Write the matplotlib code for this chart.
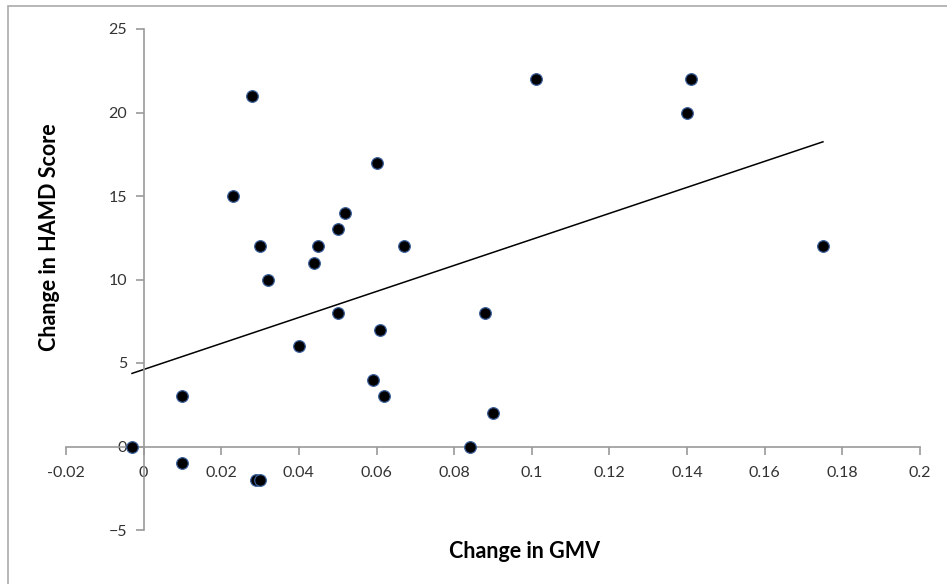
import numpy as np
import matplotlib.pyplot as plt
from matplotlib.patches import Rectangle

plt.rcParams['font.family'] = ['Lato', 'DejaVu Sans']

# change in grey matter volume vs change in HAMD score
gmv = [-0.003, 0.010, 0.010, 0.028, 0.023, 0.030, 0.032, 0.029, 0.030,
       0.040, 0.044, 0.045, 0.050, 0.052, 0.050, 0.060, 0.059, 0.061,
       0.062, 0.067, 0.084, 0.088, 0.090, 0.101, 0.140, 0.141, 0.175]
hamd = [0, 3, -1, 21, 15, 12, 10, -2, -2,
        6, 11, 12, 13, 14, 8, 17, 4, 7,
        3, 12, 0, 8, 2, 22, 20, 22, 12]

x_ticks = [-0.02, 0, 0.02, 0.04, 0.06, 0.08, 0.1, 0.12, 0.14, 0.16, 0.18, 0.2]
x_tick_labels = ['-0.02', '0', '0.02', '0.04', '0.06', '0.08', '0.1',
                 '0.12', '0.14', '0.16', '0.18', '0.2']
y_ticks = [-5, 0, 5, 10, 15, 20, 25]

fig = plt.figure(figsize=(9.47, 5.84), dpi=100)
ax = fig.add_axes([66/947, 1 - 530/584, 854/947, 501/584])

# linear trendline over data range
x = np.array(gmv)
y = np.array(hamd)
slope, intercept = np.polyfit(x, y, 1)
xl = np.array([x.min(), x.max()])
ax.plot(xl, intercept + slope * xl, color='black', lw=1.1, zorder=2)

ax.scatter(x, y, s=70, color='black', edgecolors='#3a5f9a', linewidths=0.9, zorder=3)

ax.set_xlim(-0.02, 0.2)
ax.set_ylim(-5, 25)

# axes cross at the origin
ax.spines['left'].set_position(('data', 0))
ax.spines['bottom'].set_position(('data', 0))
ax.spines['top'].set_visible(False)
ax.spines['right'].set_visible(False)
for s in ['left', 'bottom']:
    ax.spines[s].set_color('#9a9a9a')
    ax.spines[s].set_linewidth(1.2)

ax.set_xticks(x_ticks)
ax.set_xticklabels(x_tick_labels)
ax.set_yticks(y_ticks)
ax.tick_params(axis='both', direction='out', length=6, width=1.2, color='#9a9a9a',
               labelsize=11.5, labelcolor='#333333')
ax.tick_params(axis='x', pad=8)
ax.tick_params(axis='y', pad=6)

ax.set_xlabel('Change in GMV', fontsize=15.5, fontweight='bold')
ax.set_ylabel('Change in HAMD Score', fontsize=15.5, fontweight='bold')
ax.xaxis.set_label_coords(0.537, -0.022)
ax.yaxis.set_label_coords(-0.007, 0.585)

# outer chart border
fig.patches.append(Rectangle((8/947, -0.2), 1.2, 1.2 - 6/584, transform=fig.transFigure,
                             fill=False, edgecolor='#aaaaaa', lw=1.2))

fig.savefig('out.png', dpi=100)
